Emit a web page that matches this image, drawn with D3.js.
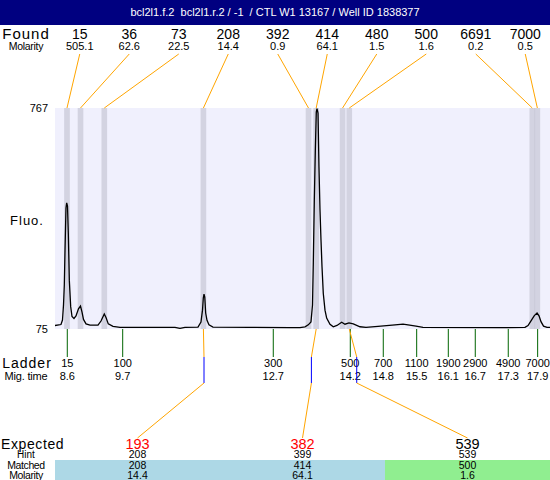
<!DOCTYPE html>
<html><head><meta charset="utf-8">
<script src="https://cdn.jsdelivr.net/npm/d3@7"></script>
<style>body{margin:0;background:#fff}svg{display:block;font-family:"Liberation Sans",Arial,sans-serif}</style>
</head><body><svg id="c" width="550" height="480"></svg>
<script>
const title = "bcl2l1.f.2  bcl2l1.r.2 / -1  / CTL W1 13167 / Well ID 1838377";
const foundSizes = [15,36,73,208,392,414,480,500,6691,7000];
const foundMolarity = ["505.1","62.6","22.5","14.4","0.9","64.1","1.5","1.6","0.2","0.5"];
const foundTimes = [8.594,8.861,9.331,11.29,13.367,13.519,14.04,14.173,17.79,17.89];
const ladderSizes = [15,100,300,500,700,1100,1900,2900,4900,7000];
const ladderTimes = [8.60,9.695,12.671,14.193,14.845,15.505,16.13,16.663,17.315,17.896];
const expected = [193,382,539];
const expectedColors = ["#ff0000","#ff0000","#000000"];
const hints = [208,399,539];
const matched = [208,414,500];
const matchedMolarity = ["14.4","64.1","1.6"];
const matchedColors = ["#add8e6","#add8e6","#90ee90"];
const fluoTicks = [75,767];
const traceTimes = [8.357,8.475,8.505,8.525,8.541,8.555,8.574,8.588,8.604,8.620,
 8.640,8.667,8.693,8.732,8.772,8.821,8.861,8.891,8.920,8.970,
 9.049,9.207,9.266,9.331,9.365,9.410,9.503,9.642,
 10.234,10.728,10.827,10.926,11.183,11.242,11.272,11.288,11.302,11.317,
 11.335,11.361,11.400,11.479,12.210,13.001,13.199,13.298,13.363,13.416,
 13.446,13.462,13.482,13.502,13.521,13.535,13.555,13.574,13.594,13.614,
 13.634,13.659,13.693,13.726,13.792,13.857,13.930,14.023,14.088,14.167,
 14.252,14.385,14.503,14.741,15.077,15.235,15.334,15.492,15.630,17.152,
 17.646,17.706,17.774,17.830,17.884,17.923,17.962,18.012,18.081,18.14];
const traceFluo = [86,89,103,150,213,322,454,470,460,376,
 228,145,114,108,116,138,147,128,105,91,
 87,87,100,122,111,91,83,80,
 80,80,77,80,81,97,134,172,184,175,
 125,102,88,81,80,79,79,82,88,97,
 150,282,479,635,754,765,751,583,449,354,
 270,187,134,109,90,82,86,96,90,94,
 91,82,80,83,88,90,88,84,80,79,
 80,86,103,117,125,116,98,84,80,80];

const W = 550, H = 480;
const P = {left:55, right:550, top:108, bottom:329};
const svg = d3.select("#c");
const x = d3.scaleLinear().domain([8.357,18.14]).range([P.left,P.right]);
const y = d3.scaleLinear().domain([75,767]).range([P.bottom,P.top]);
const sizeToTime = d3.scaleLinear().domain(ladderSizes).range(ladderTimes);
const foundBand = d3.scaleBand().domain(d3.range(foundSizes.length)).range([P.left,P.right]);
const colBand = d3.scaleBand().domain(d3.range(expected.length)).range([P.left,P.right]);
const fc = i => foundBand(i) + foundBand.bandwidth()/2;
const cc = i => colBand(i) + colBand.bandwidth()/2;

// header
svg.append("rect").attr("x",0).attr("y",0).attr("width",W).attr("height",25).attr("fill","#000080");
svg.append("text").attr("x",W/2).attr("y",16).attr("text-anchor","middle").attr("fill","#fff")
  .attr("font-size",11).style("white-space","pre").text(title);

// left labels
function lab(t,xx,yy,fs,anchor,ls){
  return svg.append("text").attr("x",xx).attr("y",yy).attr("font-size",fs)
    .attr("text-anchor",anchor||"middle").attr("letter-spacing",ls||0).attr("fill","#000").text(t);
}
lab("Found",26,39,15,"middle",1);
lab("Molarity",26,50,10.5,"middle",-0.3);
lab("Fluo.",27,225,13,"middle",1);
lab("Ladder",27,368,14,"middle",1);
lab("Mig. time",26,380,11,"middle",-0.2);
lab("Expected",1,449,14,"start",0.6);
lab("Hint",26,458,10,"middle",0);
lab("Matched",26,468.5,10.5,"middle",-0.4);
lab("Molarity",26,478.5,10.5,"middle",-0.4);

// plot background
svg.append("rect").attr("x",P.left).attr("y",P.top).attr("width",P.right-P.left).attr("height",P.bottom-P.top).attr("fill","#f0f0fd");
// y tick labels
svg.selectAll(".yt").data(fluoTicks).enter().append("text")
  .attr("x",48).attr("y",d=>y(d)+4).attr("text-anchor","end").attr("font-size",11).text(d=>d);

// bands
const bw = 5.6;
svg.selectAll(".band").data(foundTimes).enter().append("rect")
  .attr("x",d=>x(d)-bw/2).attr("y",P.top).attr("width",bw).attr("height",P.bottom-P.top)
  .attr("fill","rgb(182,182,198)").attr("opacity",0.5);

// trace
svg.append("clipPath").attr("id","clip").append("rect").attr("x",P.left).attr("y",P.top-1).attr("width",P.right-P.left).attr("height",P.bottom-P.top+1);
const line = d3.line().x(d=>x(d[0])).y(d=>y(d[1]));
svg.append("path").attr("clip-path","url(#clip)").datum(d3.zip(traceTimes,traceFluo))
  .attr("d",line).attr("fill","none").attr("stroke","#000").attr("stroke-width",1.3);

// found labels + connectors
svg.selectAll(".fs").data(foundSizes).enter().append("text")
  .attr("x",(d,i)=>fc(i)).attr("y",39).attr("text-anchor","middle").attr("font-size",14).text(d=>d);
svg.selectAll(".fm").data(foundMolarity).enter().append("text")
  .attr("x",(d,i)=>fc(i)).attr("y",50).attr("text-anchor","middle").attr("font-size",11).text(d=>d);
svg.selectAll(".fl").data(foundTimes).enter().append("line")
  .attr("x1",(d,i)=>fc(i)).attr("y1",54).attr("x2",d=>x(d)).attr("y2",P.top)
  .attr("stroke","#ffa500").attr("stroke-width",1);

// ladder ticks and labels
svg.selectAll(".lt").data(ladderTimes).enter().append("line")
  .attr("x1",d=>x(d)).attr("x2",d=>x(d)).attr("y1",P.bottom).attr("y2",357)
  .attr("stroke","#006400").attr("stroke-width",1);
svg.selectAll(".ls").data(ladderSizes).enter().append("text")
  .attr("x",(d,i)=>x(ladderTimes[i])).attr("y",367).attr("text-anchor","middle").attr("font-size",11).text(d=>d);
svg.selectAll(".lm").data(ladderTimes).enter().append("text")
  .attr("x",d=>x(d)).attr("y",380).attr("text-anchor","middle").attr("font-size",11).text(d=>d.toFixed(1));

// matched connectors
matched.forEach((m,i)=>{
  const fi = foundSizes.indexOf(m);
  const px = x(foundTimes[fi]);
  const hx = x(sizeToTime(hints[i]));
  svg.append("line").attr("x1",px).attr("y1",P.bottom).attr("x2",hx).attr("y2",357).attr("stroke","#ffa500");
  svg.append("line").attr("x1",hx).attr("y1",357).attr("x2",hx).attr("y2",383).attr("stroke","#0000ff");
  svg.append("line").attr("x1",hx).attr("y1",383).attr("x2",cc(i)).attr("y2",438).attr("stroke","#ffa500");
});

// matched cells
svg.selectAll(".mc").data(matchedColors).enter().append("rect")
  .attr("x",(d,i)=>colBand(i)).attr("y",460).attr("width",colBand.bandwidth()).attr("height",20).attr("fill",d=>d);

svg.selectAll(".ex").data(expected).enter().append("text")
  .attr("x",(d,i)=>cc(i)).attr("y",449).attr("text-anchor","middle").attr("font-size",14.5)
  .attr("fill",(d,i)=>expectedColors[i]).text(d=>d);
svg.selectAll(".hi").data(hints).enter().append("text")
  .attr("x",(d,i)=>cc(i)).attr("y",458).attr("text-anchor","middle").attr("font-size",10.5).text(d=>d);
svg.selectAll(".ma").data(matched).enter().append("text")
  .attr("x",(d,i)=>cc(i)).attr("y",468.5).attr("text-anchor","middle").attr("font-size",10.5).text(d=>d);
svg.selectAll(".mm").data(matchedMolarity).enter().append("text")
  .attr("x",(d,i)=>cc(i)).attr("y",478.5).attr("text-anchor","middle").attr("font-size",10.5).text(d=>d);
</script></body></html>
